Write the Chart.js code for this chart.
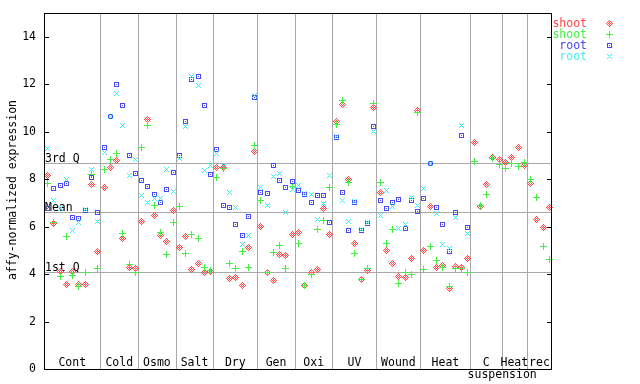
<!DOCTYPE html>
<html>
<head>
<meta charset="utf-8">
<script src="https://cdn.jsdelivr.net/npm/chart.js@4"></script>
<style>
html,body{margin:0;padding:0;background:#fff;}
</style>
</head>
<body>
<canvas id="c" width="640" height="384"></canvas>
<script>
// ========================
// DATA
// ========================
const CATEGORIES = ['Cont','Cold','Osmo','Salt','Dry','Gen','Oxi','UV','Wound','Heat','C suspension','Heat','rec'];
const GROUP_SIZES = [9,6,6,6,7,6,6,7,7,8,5,4,4];
const Y_TICKS = [0,2,4,6,8,10,12,14];
const QUARTILE_LABELS = ['3rd Q','Mean','1st Q'];
const QUARTILE_VALUES = [8.68, 6.61, 4.08];
const SERIES_NAMES = ['shoot','shoot','root','root'];

const shootA = [8.18,6.14,4.13,3.60,4.13,3.57,3.57,7.80,4.98,
  7.68,8.52,8.81,5.51,4.29,4.27,
  6.24,10.53,6.48,5.64,5.38,6.69,
  5.13,5.60,4.22,4.46,4.08,4.11,
  8.51,8.52,3.82,3.87,3.53,5.13,9.18,
  6.03,4.08,3.74,4.84,4.79,5.69,
  5.78,3.53,4.08,4.20,6.78,5.68,
  10.43,11.16,8.00,5.30,3.78,4.16,11.02,
  7.45,5.00,4.46,3.91,3.87,4.67,10.90,
  5.00,6.86,4.29,4.37,3.40,4.33,4.29,4.67,
  9.56,6.86,7.79,8.94,8.84,
  8.72,8.94,9.35,8.59,
  7.82,6.31,5.98,6.82];
const shootB = [7.83,6.21,3.92,5.60,3.94,3.49,4.10,8.20,4.25,
  8.41,8.84,9.11,5.71,4.43,4.08,
  9.35,10.28,6.90,5.79,4.84,6.19,
  6.86,4.89,5.68,5.51,4.29,4.18,
  8.08,8.45,4.46,4.26,4.96,4.29,9.43,
  7.11,4.10,4.92,5.22,4.25,7.69,
  5.30,3.53,4.01,5.89,6.27,7.66,
  10.32,11.35,7.90,4.88,3.78,4.25,11.20,
  7.90,5.30,5.89,3.61,4.08,3.99,10.81,
  4.20,5.17,4.58,4.29,3.49,4.25,4.25,4.08,
  8.76,6.90,7.37,8.88,8.63,
  8.46,8.67,8.55,8.72,
  8.00,7.24,5.17,4.64];
const rootA = [6.78,7.62,7.76,7.83,6.40,6.35,6.71,8.10,6.62,
  9.36,10.68,12.01,11.13,9.03,8.25,
  7.96,7.70,7.38,7.03,7.58,8.29,
  9.01,10.45,12.22,12.33,11.12,8.22,
  9.28,6.92,6.82,6.10,5.64,6.44,11.46,
  7.45,7.41,8.59,7.96,7.66,7.93,
  7.54,7.37,7.03,7.32,7.32,6.19,
  9.76,7.45,5.85,7.03,5.85,6.16,10.23,
  7.11,6.78,7.03,7.16,5.92,7.11,6.65,
  7.20,8.70,6.82,6.10,4.96,6.61,9.86,5.98];
const rootB = [9.33,7.11,6.79,8.01,5.85,6.19,6.73,8.42,6.24,
  9.14,10.66,11.64,10.29,8.18,8.84,
  7.34,7.03,7.20,7.20,8.42,7.49,
  8.87,10.22,12.33,11.96,8.38,8.59,
  9.11,8.58,7.45,6.82,5.26,5.64,11.56,
  7.68,6.90,8.14,8.24,6.62,7.58,
  7.76,7.41,7.37,6.31,7.00,8.17,
  9.80,7.14,6.23,7.09,5.90,6.21,10.01,
  6.48,7.54,6.86,5.96,6.10,7.25,6.90,
  7.62,8.67,6.58,5.26,5.09,6.40,10.28,5.74];

const COLORS = ['#ff4848','#44ee44','#4848ff','#44eeee'];
const FONT = '11.5px "DejaVu Sans Mono"';

// ========================
// MARKERS (small pixel images)
// ========================
function makeMarker(kind, color) {
  const c = document.createElement('canvas');
  c.width = 7; c.height = 7;
  const g = c.getContext('2d');
  g.fillStyle = color;
  for (let py = 0; py < 7; py++) for (let px = 0; px < 7; px++) {
    const dx = px - 3, dy = py - 3;
    let on = false;
    if (kind === 'diamond') on = Math.abs(dx) + Math.abs(dy) <= 3 && Math.abs(dx + dy) % 2 === 1;
    else if (kind === 'plus') on = dx === 0 || dy === 0;
    else if (kind === 'square') on = (Math.max(Math.abs(dx), Math.abs(dy)) === 2) || (dx === 0 && dy === 0);
    else if (kind === 'cross') on = Math.abs(dx) === Math.abs(dy) && Math.abs(dx) <= 2;
    if (on) g.fillRect(px, py, 1, 1);
  }
  return c;
}
const MARKERS = [
  makeMarker('diamond', COLORS[0]),
  makeMarker('plus', COLORS[1]),
  makeMarker('square', COLORS[2]),
  makeMarker('cross', COLORS[3])
];

function toPoints(vals) { return vals.map((v, i) => ({ x: i + 0.5, y: v })); }
const TOTAL = GROUP_SIZES.reduce((a, b) => a + b, 0);

// ========================
// DECORATION PLUGIN
// ========================
function hline(ctx, x1, x2, y) { ctx.beginPath(); ctx.moveTo(x1, y); ctx.lineTo(x2, y); ctx.stroke(); }
function vline(ctx, x, y1, y2) { ctx.beginPath(); ctx.moveTo(x, y1); ctx.lineTo(x, y2); ctx.stroke(); }

const decor = {
  id: 'decor',
  beforeDatasetsDraw(chart) {
    const { ctx, chartArea: a, scales: { x, y } } = chart;
    ctx.save();
    ctx.strokeStyle = '#a8a8a8';
    ctx.lineWidth = 1;
    let acc = 0;
    GROUP_SIZES.forEach((n, k) => {
      acc += n;
      if (k < GROUP_SIZES.length - 1) vline(ctx, Math.round(x.getPixelForValue(acc)) + 0.5, a.top, a.bottom);
    });
    QUARTILE_VALUES.forEach(v => hline(ctx, a.left, a.right, Math.round(y.getPixelForValue(v)) + 0.5));

    ctx.fillStyle = '#000';
    ctx.font = FONT;
    ctx.textBaseline = 'alphabetic';
    ctx.textAlign = 'left';
    QUARTILE_LABELS.forEach((t, k) => ctx.fillText(t, a.left + 1, Math.round(y.getPixelForValue(QUARTILE_VALUES[k])) - 1));

    // category labels
    ctx.textAlign = 'center';
    acc = 0;
    GROUP_SIZES.forEach((n, k) => {
      const cx = x.getPixelForValue(acc + n / 2);
      acc += n;
      const parts = CATEGORIES[k].split(' ');
      ctx.fillText(parts[0], cx, a.bottom - 3);
      if (parts[1]) ctx.fillText(parts[1], cx + 16, a.bottom + 9);
    });
    ctx.restore();
  },
  afterDatasetsDraw(chart) {
    // pixel markers at the positions computed by the scatter elements
    const ctx = chart.ctx;
    chart.data.datasets.forEach((ds, k) => {
      chart.getDatasetMeta(k).data.forEach(el => {
        ctx.drawImage(MARKERS[k], Math.round(el.x) - 3, Math.round(el.y) - 3);
      });
    });
  },
  afterDraw(chart) {
    const { ctx, chartArea: a, scales: { y } } = chart;
    ctx.save();
    ctx.strokeStyle = '#000';
    ctx.lineWidth = 1;
    ctx.strokeRect(a.left + 0.5, a.top + 0.5, a.right - a.left - 1, a.bottom - a.top);
    ctx.fillStyle = '#000';
    ctx.font = FONT;
    ctx.textAlign = 'right';
    ctx.textBaseline = 'middle';
    Y_TICKS.forEach(t => {
      const py = Math.round(y.getPixelForValue(t)) + 0.5;
      hline(ctx, a.left, a.left + 5, py);
      hline(ctx, a.right - 5, a.right, py);
      ctx.fillText(String(t), 36, py);
    });
    // y title
    ctx.save();
    ctx.translate(13, 190);
    ctx.rotate(-Math.PI / 2);
    ctx.textAlign = 'center';
    ctx.fillText('affy-normalized expression', 0, 0);
    ctx.restore();
    // legend
    ctx.textAlign = 'right';
    ctx.textBaseline = 'alphabetic';
    SERIES_NAMES.forEach((name, k) => {
      const base = 27 + k * 11;
      ctx.fillStyle = COLORS[k];
      ctx.fillText(name, 587, base);
      ctx.drawImage(MARKERS[k], 606, base - 7);
    });
    ctx.restore();
  }
};

// ========================
// CHART
// ========================
const mk = (label, vals, k) => ({
  label, data: toPoints(vals), pointRadius: 0, pointHoverRadius: 0,
  borderColor: COLORS[k], backgroundColor: COLORS[k], showLine: false
});

new Chart(document.getElementById('c'), {
  type: 'scatter',
  data: {
    datasets: [
      mk('shoot', shootA, 0),
      mk('shoot', shootB, 1),
      mk('root', rootA, 2),
      mk('root', rootB, 3)
    ]
  },
  options: {
    responsive: false,
    animation: false,
    events: [],
    layout: { padding: { left: 44, right: 88, top: 13, bottom: 15 } },
    plugins: { legend: { display: false }, tooltip: { enabled: false } },
    scales: {
      x: { type: 'linear', min: 0, max: TOTAL, display: false },
      y: { type: 'linear', min: 0, max: 15, display: false }
    }
  },
  plugins: [decor]
});
</script>
</body>
</html>
